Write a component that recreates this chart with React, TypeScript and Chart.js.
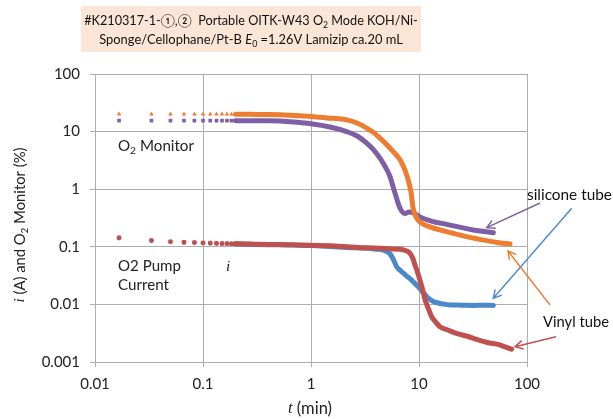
import React, { useEffect, useRef } from "react";
import { Chart, registerables } from "chart.js";
Chart.register(...registerables);

// ---- axis ticks ----
const xTickValues = [0.01, 0.1, 1, 10, 100];
const xTickLabels = ["0.01", "0.1", "1", "10", "100"];
const yTickValues = [0.001, 0.01, 0.1, 1, 10, 100];
const yTickLabels = ["0.001", "0.01", "0.1", "1", "10", "100"];

// ---- O2 monitor, vinyl tube (%) ----
const o2VinylT = [0.0167, 0.0333, 0.05, 0.0667, 0.0833, 0.1, 0.1167, 0.1333, 0.15, 0.1667, 0.1833, 0.2, 0.25, 0.3, 0.4, 0.516, 0.7, 1.0, 1.4, 2.14, 2.7, 3.28, 3.8, 4.35, 5.0, 5.77, 6.67, 7.4, 7.94, 8.47, 8.77, 9.18, 10.2, 12.5, 18, 27.6, 42.3, 55, 69.7];
const o2VinylPct = [20.1, 20.1, 20.1, 20.1, 20.1, 20.1, 20.1, 20.1, 20.1, 20.1, 20.0, 20.0, 20.0, 19.9, 19.8, 19.6, 19.0, 18.3, 17.3, 16.0, 14.0, 11.5, 9.6, 7.7, 6.0, 4.5, 3.24, 2.17, 1.45, 0.85, 0.5, 0.36, 0.27, 0.224, 0.183, 0.15, 0.128, 0.118, 0.112];

// ---- O2 monitor, silicone tube (%) ----
const o2SiliconeT = [0.0167, 0.0333, 0.05, 0.0667, 0.0833, 0.1, 0.1167, 0.1333, 0.15, 0.1667, 0.1833, 0.2, 0.25, 0.3, 0.4, 0.516, 0.7, 1.0, 1.5, 2.14, 2.7, 3.28, 3.8, 4.35, 4.9, 5.39, 6.0, 6.67, 7.4, 8.1, 8.86, 10.2, 13, 18, 25, 31.8, 40, 48.8];
const o2SiliconePct = [15.5, 15.5, 15.5, 15.5, 15.5, 15.5, 15.5, 15.5, 15.5, 15.5, 15.5, 15.5, 15.4, 15.4, 15.4, 15.3, 14.7, 13.7, 12.0, 10.0, 8.3, 6.3, 4.8, 3.46, 2.4, 1.66, 0.85, 0.47, 0.38, 0.4, 0.39, 0.33, 0.28, 0.245, 0.215, 0.196, 0.185, 0.176];

// ---- O2 pump current, vinyl tube (A) ----
const curVinylT = [0.0167, 0.0333, 0.05, 0.0667, 0.0833, 0.1, 0.1167, 0.1333, 0.15, 0.1667, 0.1833, 0.2, 0.25, 0.3, 0.4, 0.5, 0.7, 1.0, 1.5, 2.2, 3.28, 4.5, 5.5, 6.67, 7.5, 8.26, 8.8, 9.18, 9.7, 10.2, 10.8, 11.4, 12.2, 13.1, 14.2, 15.6, 18.5, 22.3, 28, 34.2, 42, 52.5, 62, 72];
const curVinylA = [0.144, 0.129, 0.123, 0.12, 0.119, 0.117, 0.116, 0.115, 0.114, 0.114, 0.113, 0.113, 0.112, 0.111, 0.11, 0.11, 0.108, 0.106, 0.104, 0.1, 0.096, 0.094, 0.092, 0.091, 0.086, 0.077, 0.062, 0.048, 0.036, 0.0265, 0.018, 0.0119, 0.0085, 0.0061, 0.005, 0.0041, 0.0036, 0.00313, 0.0028, 0.00246, 0.0022, 0.00204, 0.00185, 0.00167];

// ---- O2 pump current, silicone tube (A) ----
const curSiliconeT = [0.0167, 0.0333, 0.05, 0.0667, 0.0833, 0.1, 0.1167, 0.1333, 0.15, 0.1667, 0.1833, 0.2, 0.25, 0.3, 0.4, 0.5, 0.7, 1.0, 1.62, 2.2, 3.28, 4.0, 4.67, 5.0, 5.39, 5.8, 6.21, 6.7, 7.16, 7.7, 8.26, 9.0, 9.86, 10.8, 11.8, 13, 14.6, 17, 19.4, 25, 32, 40, 48.8];
const curSiliconeA = [0.141, 0.128, 0.122, 0.119, 0.118, 0.116, 0.115, 0.114, 0.113, 0.113, 0.112, 0.112, 0.111, 0.11, 0.109, 0.109, 0.107, 0.105, 0.1, 0.097, 0.094, 0.091, 0.088, 0.083, 0.075, 0.06, 0.045, 0.039, 0.035, 0.031, 0.028, 0.024, 0.0202, 0.0165, 0.0136, 0.0118, 0.0107, 0.0101, 0.0098, 0.0097, 0.0096, 0.0097, 0.0096];

const ORANGE = "#ED7D31";
const PURPLE = "#7E5FA6";
const RED = "#C0504D";
const BLUE = "#4C88CC";
const FONT = "Lato, 'Open Sans', sans-serif";
const SERIF = "'Liberation Serif', 'DejaVu Serif', serif";

// time (min) after which the logger's 1-s markers merge into a line
const MERGE_T = 0.2;

type Seg = { t: string; it?: boolean; sub?: boolean; fam?: string };

function richWidth(ctx: CanvasRenderingContext2D, segs: Seg[], size: number) {
  let w = 0;
  for (const s of segs) {
    ctx.font = `${s.it ? "italic " : ""}${s.sub ? size * 0.68 : size}px ${s.fam || FONT}`;
    w += ctx.measureText(s.t).width;
  }
  return w;
}

function drawRich(ctx: CanvasRenderingContext2D, segs: Seg[], x: number, y: number, size: number, align: "left" | "center", color: string, fitW?: number) {
  if (fitW) size = (size * fitW) / richWidth(ctx, segs, size);
  const w = richWidth(ctx, segs, size);
  let cx = align === "center" ? x - w / 2 : x;
  ctx.textAlign = "left";
  ctx.textBaseline = "middle";
  ctx.fillStyle = color;
  for (const s of segs) {
    ctx.font = `${s.it ? "italic " : ""}${s.sub ? size * 0.68 : size}px ${s.fam || FONT}`;
    ctx.fillText(s.t, cx, s.sub ? y + size * 0.32 : y);
    cx += ctx.measureText(s.t).width;
  }
}

function arrow(ctx: CanvasRenderingContext2D, x1: number, y1: number, x2: number, y2: number, color: string) {
  ctx.save();
  ctx.strokeStyle = color;
  ctx.lineWidth = 1.4;
  ctx.beginPath();
  ctx.moveTo(x1, y1);
  ctx.lineTo(x2, y2);
  const a = Math.atan2(y2 - y1, x2 - x1);
  const L = 9;
  const sp = 0.5;
  ctx.moveTo(x2 - L * Math.cos(a - sp), y2 - L * Math.sin(a - sp));
  ctx.lineTo(x2, y2);
  ctx.lineTo(x2 - L * Math.cos(a + sp), y2 - L * Math.sin(a + sp));
  ctx.stroke();
  ctx.restore();
}

const decorPlugin = {
  id: "decor",
  afterDraw(chart: any) {
    const ctx: CanvasRenderingContext2D = chart.ctx;
    ctx.save();
    // title box
    ctx.fillStyle = "#FBE5D6";
    ctx.fillRect(81, 6, 340, 46);
    drawRich(ctx, [{ t: "#K210317-1-①,②  Portable OITK-W43 O" }, { t: "2", sub: true }, { t: " Mode KOH/Ni-" }], 251, 21, 14, "center", "#111", 334);
    drawRich(ctx, [{ t: "Sponge/Cellophane/Pt-B " }, { t: "E", it: true }, { t: "0", sub: true }, { t: " =1.26V Lamizip ca.20 mL" }], 251, 40, 14, "center", "#111", 304);

    // axis titles
    ctx.save();
    ctx.translate(20, 225);
    ctx.rotate(-Math.PI / 2);
    drawRich(ctx, [{ t: "i", it: true, fam: SERIF }, { t: " (A) and O" }, { t: "2", sub: true }, { t: " Monitor (%)" }], 0, 0, 14.5, "center", "#222", 155);
    ctx.restore();
    drawRich(ctx, [{ t: "t", it: true, fam: SERIF }, { t: " (min)" }], 310, 409, 15, "center", "#222", 44);

    // in-plot labels
    drawRich(ctx, [{ t: "O" }, { t: "2", sub: true }, { t: " Monitor" }], 118, 146, 15, "left", "#222", 76);
    drawRich(ctx, [{ t: "O2 Pump" }], 118, 266, 15, "left", "#222", 63);
    drawRich(ctx, [{ t: "Current" }], 118, 285, 15, "left", "#222", 51);
    drawRich(ctx, [{ t: "i", it: true, fam: SERIF }], 226, 267, 15, "left", "#222");

    drawRich(ctx, [{ t: "silicone tube" }], 527, 195, 15, "left", "#111", 85);
    drawRich(ctx, [{ t: "Vinyl tube" }], 543, 322, 15, "left", "#111", 66);

    arrow(ctx, 540, 203, 486.7, 227.7, PURPLE);
    arrow(ctx, 571.7, 208.3, 493.3, 298.3, BLUE);
    arrow(ctx, 550, 305, 508, 251, ORANGE);
    arrow(ctx, 556, 336.7, 515, 346.7, RED);
    ctx.restore();
  },
};

function markerSet(xs: number[], ys: number[], color: string, style: string, order: number) {
  const data = xs.map((x, i) => ({ x, y: ys[i] })).filter((p) => p.x <= MERGE_T);
  return {
    data,
    showLine: false,
    backgroundColor: color,
    borderColor: color,
    pointStyle: style,
    pointRadius: 2.6,
    pointBorderWidth: 0,
    pointHoverRadius: 0,
    order,
  };
}

function lineSet(xs: number[], ys: number[], color: string, order: number) {
  const data = xs.map((x, i) => ({ x, y: ys[i] })).filter((p) => p.x >= MERGE_T);
  return {
    data,
    showLine: true,
    borderColor: color,
    backgroundColor: color,
    borderWidth: 5,
    borderCapStyle: "round",
    borderJoinStyle: "round",
    cubicInterpolationMode: "monotone",
    pointRadius: 0,
    pointHoverRadius: 0,
    order,
  };
}

export default function App() {
  const ref = useRef<HTMLCanvasElement | null>(null);
  useEffect(() => {
    document.body.style.margin = "0";
    const canvas = ref.current!;
    const chart = new Chart(canvas, {
      type: "scatter",
      data: {
        datasets: [
          lineSet(curVinylT, curVinylA, RED, 0),
          markerSet(curVinylT, curVinylA, RED, "rectRounded", 1),
          lineSet(o2VinylT, o2VinylPct, ORANGE, 2),
          markerSet(o2VinylT, o2VinylPct, ORANGE, "triangle", 3),
          lineSet(curSiliconeT, curSiliconeA, BLUE, 4),
          markerSet(curSiliconeT, curSiliconeA, BLUE, "rectRot", 5),
          lineSet(o2SiliconeT, o2SiliconePct, PURPLE, 6),
          markerSet(o2SiliconeT, o2SiliconePct, PURPLE, "rect", 7),
        ] as any,
      },
      options: {
        responsive: false,
        animation: false,
        layout: { padding: { top: 74, right: 86, bottom: 0, left: 0 } },
        plugins: { legend: { display: false }, tooltip: { enabled: false }, title: { display: false } },
        scales: {
          x: {
            type: "logarithmic",
            min: 0.01,
            max: 100,
            afterBuildTicks: (s: any) => {
              s.ticks = xTickValues.map((v) => ({ value: v }));
            },
            afterFit: (s: any) => {
              s.height = 57;
            },
            ticks: {
              autoSkip: false,
              maxRotation: 0,
              padding: 8,
              color: "#222",
              font: { family: FONT, size: 15 },
              callback: (v: any) => {
                const i = xTickValues.findIndex((t) => Math.abs(t - v) / t < 1e-6);
                return i >= 0 ? xTickLabels[i] : "";
              },
            },
            grid: { color: "#ADADAD", lineWidth: 1, tickLength: 5 },
            border: { color: "#ADADAD" },
          },
          y: {
            type: "logarithmic",
            min: 0.001,
            max: 100,
            afterBuildTicks: (s: any) => {
              s.ticks = yTickValues.map((v) => ({ value: v }));
            },
            afterFit: (s: any) => {
              s.width = 95;
            },
            ticks: {
              autoSkip: false,
              padding: 10,
              color: "#222",
              font: { family: FONT, size: 15 },
              callback: (v: any) => {
                const i = yTickValues.findIndex((t) => Math.abs(t - v) / t < 1e-6);
                return i >= 0 ? yTickLabels[i] : "";
              },
            },
            grid: { color: "#ADADAD", lineWidth: 1, tickLength: 5 },
            border: { color: "#ADADAD" },
          },
        },
      },
      plugins: [decorPlugin],
    } as any);
    return () => chart.destroy();
  }, []);
  return <canvas ref={ref} width={613} height={419} style={{ display: "block" }} />;
}
